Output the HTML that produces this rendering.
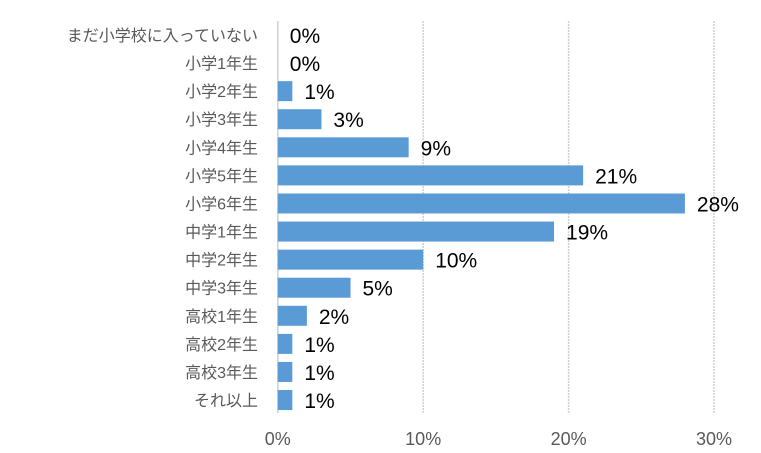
<!DOCTYPE html>
<html><head><meta charset="utf-8"><style>
body{margin:0;background:#fff;}
svg{display:block;font-family:"Liberation Sans","Noto Sans CJK JP",sans-serif;}
</style></head><body>
<svg width="761" height="453">
<g id="grid"></g><g id="bars"></g><g id="labels"></g>
</svg>
<script>
const categories=["まだ小学校に入っていない","小学1年生","小学2年生","小学3年生","小学4年生","小学5年生","小学6年生","中学1年生","中学2年生","中学3年生","高校1年生","高校2年生","高校3年生","それ以上"];
const values=[0,0,1,3,9,21,28,19,10,5,2,1,1,1];
const tickValues=[0,10,20,30];
const tickLabels=["0%","10%","20%","30%"];
const NS="http://www.w3.org/2000/svg";
const x0=277.8,pxPer=14.54,yTop=21,yBot=413,rowStep=28.08,firstCenter=35,barH=20;
const xs=v=>x0+v*pxPer;
const yc=i=>firstCenter+i*rowStep;
function mk(t,a,p){const e=document.createElementNS(NS,t);for(const k in a)e.setAttribute(k,a[k]);p.appendChild(e);return e;}
const grid=document.getElementById('grid'),bars=document.getElementById('bars'),labels=document.getElementById('labels');
tickValues.forEach((v,i)=>{
 const l=mk('line',{x1:xs(v),x2:xs(v),y1:yTop,y2:yBot,stroke:'#d0d0d0','stroke-width':1.5,'stroke-dasharray':i?'2,1':'none'},grid);
 
 
 const t=mk('text',{x:xs(v),y:445,'text-anchor':'middle','font-size':18,fill:'#595959'},grid);
 t.textContent=tickLabels[i];
 
 
});
categories.forEach((c,i)=>{
 const y=yc(i);
 const t=mk('text',{x:258,y:y+6,'text-anchor':'end','font-size':16,fill:'#595959'},labels);
 t.textContent=c;
 
 
 const w=xs(values[i])-x0;
 if(w>0){const r=mk('rect',{x:x0,y:y-barH/2,width:w,height:barH,fill:'#5b9bd5'},bars);
 
 }
 const v=mk('text',{x:xs(values[i])+12,y:y+8,'font-size':21,fill:'#000'},labels);
 v.textContent=values[i]+'%';
 
 
});
</script>
</body></html>
